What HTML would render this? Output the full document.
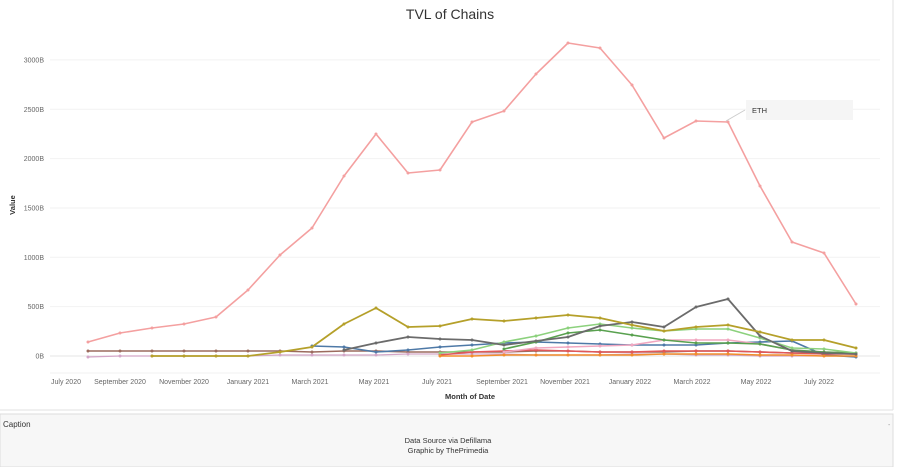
<!DOCTYPE html>
<html><head><meta charset="utf-8"><style>
body{margin:0;width:899px;height:467px;background:#fff;font-family:"Liberation Sans",sans-serif;overflow:hidden}
</style></head><body>
<svg id="s" width="899" height="467" xmlns="http://www.w3.org/2000/svg" font-family="Liberation Sans, sans-serif">
<rect x="0" y="0" width="899" height="467" fill="#fff"/>
<line x1="893" y1="0" x2="893" y2="410" stroke="#e0e0e0"/>
<line x1="0" y1="410" x2="893" y2="410" stroke="#e0e0e0"/>
<rect x="0" y="414" width="893" height="53" fill="#f7f7f7" stroke="#dcdcdc"/>
<text x="3" y="427" font-size="8" fill="#333">Caption</text>
<text x="888" y="427" font-size="7" fill="#999">-</text>
<text x="448" y="443" font-size="7.5" fill="#333" text-anchor="middle">Data Source via Defillama</text>
<text x="448" y="453" font-size="7.5" fill="#333" text-anchor="middle">Graphic by ThePrimedia</text>
<text x="450" y="19" font-size="14" fill="#333" text-anchor="middle">TVL of Chains</text>
<text x="15" y="205" font-size="7.5" fill="#333" font-weight="bold" text-anchor="middle" transform="rotate(-90 15 205)">Value</text>
<text x="470" y="399" font-size="7.5" fill="#333" font-weight="bold" text-anchor="middle">Month of Date</text>
<g id="grid"></g><g id="lines"></g>
<line x1="726" y1="121" x2="745" y2="110" stroke="#ccc"/>
<rect x="746" y="100" width="107" height="20" fill="#f5f5f5"/>
<text x="752" y="113" font-size="7.5" fill="#333">ETH</text>
</svg>
<script>
var NS="http://www.w3.org/2000/svg",g=document.getElementById('grid'),L=document.getElementById('lines');
function el(p,t,a,txt){var e=document.createElementNS(NS,t);for(var k in a)e.setAttribute(k,a[k]);if(txt)e.textContent=txt;p.appendChild(e);return e;}
var labs=["0B","500B","1000B","1500B","2000B","2500B","3000B"];
for(var i=0;i<7;i++){var y=356-i*49.35;el(g,'line',{x1:50,x2:880,y1:y,y2:y,stroke:i==0?'#e4e4e4':'#f2f2f2'});el(g,'text',{x:44,y:y+2.5,'font-size':7,fill:'#666','text-anchor':'end'},labs[i]);}
el(g,'line',{x1:50,x2:880,y1:373,y2:373,stroke:'#f0f0f0'});
var xl=[["July 2020",66],["September 2020",120],["November 2020",184],["January 2021",248],["March 2021",310],["May 2021",374],["July 2021",437],["September 2021",502],["November 2021",565],["January 2022",630],["March 2022",692],["May 2022",756],["July 2022",819]];
xl.forEach(function(a){el(g,'text',{x:a[1],y:384,'font-size':7,fill:'#666','text-anchor':'middle'},a[0]);});
function X(i){return 88+32*i;}
var S=[
["#f4a0a0",0,[342,333,328,324,317,290,255,228,176,134,173,170,122,111,74,43,48,85,138,121,122,186,242,253,304],1.6],
["#9c6b5e",0,[351,351,351,351,351,351,351,352,351,351,352,352,352,352,351,351,352,352,352,351,351,352,353,353,354],1.6],
["#d4a6c8",0,[357,356,356,356,356,356,355,355,355,355,354,354,354,354,355,355,355,354,354,355,355,356,356,356,356],1.2],
["#4e79a7",7,[346,347,352,350,347,345,343,342,343,344,345,345,345,343,342,341,355,357],1.6],
["#e15759",11,[355,352,351,350,351,352,352,351,351,351,352,353,354,354],1.6],
["#f28e2b",11,[356,356,355,355,355,355,355,354,354,354,355,355,356,356],1.6],
["#f1a7c0",13,[352,348,347,346,345,340,340,340,344,350,352,353],1.6],
["#59a14f",13,[349,342,333,330,335,340,343,343,344,350,352,353],1.6],
["#8cd17d",11,[353,350,342,336,328,324,328,331,329,329,338,348,349,353],1.6],
["#6b6b6b",8,[350,343,337,339,340,345,341,337,326,322,327,307,299,336,351,353,354],1.8],
["#b5a02a",2,[356,356,356,356,352,347,324,308,327,326,319,321,318,315,318,325,331,327,325,332,340,340,348],1.8]
];
S.forEach(function(s){var pts=s[2].map(function(y,i){return X(i+s[1])+','+y;});
el(L,'polyline',{points:pts.join(' '),fill:'none',stroke:s[0],'stroke-width':s[3],'stroke-linejoin':'round'});
s[2].forEach(function(y,i){el(L,'circle',{cx:X(i+s[1]),cy:y,r:1.5,fill:s[0]});});});
</script>
</body></html>
